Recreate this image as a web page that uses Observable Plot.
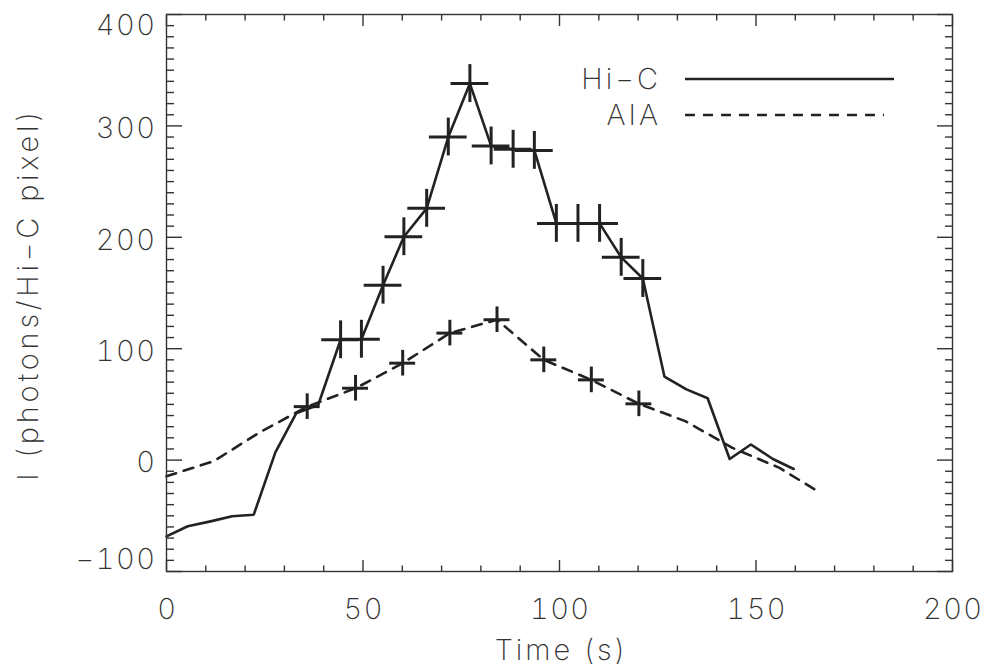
<!DOCTYPE html>
<html><head><meta charset="utf-8">
<script src="https://cdn.jsdelivr.net/npm/d3@7"></script>
<script src="https://cdn.jsdelivr.net/npm/@observablehq/plot@0.6"></script>
<style>
html,body{margin:0;padding:0;background:#fff;}
#wrap{position:relative;width:984px;height:667px;}
#legend{position:absolute;left:0;top:0;pointer-events:none;}
</style></head><body><div id="wrap"></div>
<script>
// Hi-C light curve (time in s, intensity in photons / Hi-C pixel)
const hicTime = [0, 5.4, 11.2, 16.7, 22.2, 27.7, 33.0, 38.6, 44.3, 49.6, 55.1, 60.4, 66.2, 71.7, 77.2, 82.6, 88.2, 93.6, 99.2, 104.7, 110.2, 115.7, 121.2, 126.7, 132.3, 137.7, 143.3, 148.7, 154.3, 159.6];
const hicI    = [-68.5, -59.4, -55, -50.4, -49, 7, 42, 49.5, 108, 108.5, 157, 200.5, 226, 290, 338, 282, 279, 278, 212.5, 212.5, 212.5, 182, 163, 75, 63.5, 55.5, 1, 14, 1, -8];
const hicCrossIndex = [8, 9, 10, 11, 12, 13, 14, 15, 16, 17, 18, 19, 20, 21, 22];
const hicErrT = 4.8, hicErrI = 17;

// AIA light curve
const aiaTime = [0, 12, 24, 35.8, 48.1, 60.1, 72.1, 84.1, 96, 108.1, 120.2, 132, 144, 156, 166.4];
const aiaI    = [-14.5, -1, 25.5, 48, 64.5, 87, 114, 126, 90, 72, 50.5, 35, 11, -7, -29.5];
const aiaCrossIndex = [3, 4, 5, 6, 7, 8, 9, 10];
const aiaErrT = 3.3, aiaErrI = 11.5;

// axes
const xMajor = [0, 50, 100, 150, 200];
const xMinor = [10, 20, 30, 40, 60, 70, 80, 90, 110, 120, 130, 140, 160, 170, 180, 190];
const yMajor = [-100, 0, 100, 200, 300, 400];
const yMinor = [-90,-80,-70,-60,-50,-40,-30,-20,-10,10,20,30,40,50,60,70,80,90,110,120,130,140,150,160,170,180,190,210,220,230,240,250,260,270,280,290,310,320,330,340,350,360,370,380,390];
const xLabel = "Time (s)";
const yLabel = "I (photons/Hi\u2212C pixel)";
const seriesNames = ["Hi\u2212C", "AIA"];

const hic = hicTime.map((t, i) => ({t, v: hicI[i]}));
const aia = aiaTime.map((t, i) => ({t, v: aiaI[i]}));
const hicCross = hicCrossIndex.map(i => hic[i]);
const aiaCross = aiaCrossIndex.map(i => aia[i]);
const yLabelsBottom = [yMajor[0]];
const yLabelsTop = [yMajor[yMajor.length - 1]];
const yLabelsInner = yMajor.slice(1, -1);

const ink = "#222";
const axisInk = "#333";
const fontCss = "font-family: Inter, 'DejaVu Sans', sans-serif; font-size: 29px; font-weight: 200; letter-spacing: 3px;";

const yLab = (vals, dy) => Plot.axisY(vals, {anchor: "left", tickSize: 0, tickPadding: 10, dy, stroke: "none", fill: axisInk, label: null});

const chart = Plot.plot({
  width: 984, height: 667,
  marginLeft: 166, marginRight: 32, marginTop: 14, marginBottom: 96,
  x: {domain: [0, 200]},
  y: {domain: [-100, 400]},
  style: fontCss + " background: #fff; color: #333;",
  marks: [
    // data
    Plot.line(hic, {x: "t", y: "v", stroke: ink, strokeWidth: 2.6}),
    Plot.ruleY(hicCross, {y: "v", x1: d => d.t - hicErrT, x2: d => d.t + hicErrT, stroke: ink, strokeWidth: 3}),
    Plot.ruleX(hicCross, {x: "t", y1: d => d.v - hicErrI, y2: d => d.v + hicErrI, stroke: ink, strokeWidth: 3}),
    Plot.line(aia, {x: "t", y: "v", stroke: ink, strokeWidth: 2.6, strokeDasharray: "10,8"}),
    Plot.ruleY(aiaCross, {y: "v", x1: d => d.t - aiaErrT, x2: d => d.t + aiaErrT, stroke: ink, strokeWidth: 3}),
    Plot.ruleX(aiaCross, {x: "t", y1: d => d.v - aiaErrI, y2: d => d.v + aiaErrI, stroke: ink, strokeWidth: 3}),
    // inward ticks on all four sides
    Plot.axisX(xMajor, {anchor: "bottom", tickSize: -11, fill: "none", stroke: axisInk, strokeWidth: 1.4}),
    Plot.axisX(xMinor, {anchor: "bottom", tickSize: -5.5, fill: "none", stroke: axisInk, strokeWidth: 1.4}),
    Plot.axisX(xMajor, {anchor: "top", tickSize: -11, fill: "none", stroke: axisInk, strokeWidth: 1.4}),
    Plot.axisX(xMinor, {anchor: "top", tickSize: -5.5, fill: "none", stroke: axisInk, strokeWidth: 1.4}),
    Plot.axisY(yMajor, {anchor: "left", tickSize: -16, fill: "none", stroke: axisInk, strokeWidth: 1.4}),
    Plot.axisY(yMinor, {anchor: "left", tickSize: -8, fill: "none", stroke: axisInk, strokeWidth: 1.4}),
    Plot.axisY(yMajor, {anchor: "right", tickSize: -16, fill: "none", stroke: axisInk, strokeWidth: 1.4}),
    Plot.axisY(yMinor, {anchor: "right", tickSize: -8, fill: "none", stroke: axisInk, strokeWidth: 1.4}),
    // tick labels
    Plot.axisX(xMajor, {anchor: "bottom", tickSize: 0, tickPadding: 27, dx: 0.75, stroke: "none", fill: axisInk, label: null}),
    yLab(yLabelsInner, 3),
    yLab(yLabelsTop, 11),
    yLab(yLabelsBottom, -12),
    // axis titles
    Plot.text([xLabel], {frameAnchor: "bottom", dy: 79, dx: 1.5, lineAnchor: "middle", textAnchor: "middle", text: d => d, fill: axisInk}),
    Plot.text([yLabel], {frameAnchor: "left", dx: -138, dy: 1.5, rotate: -90, lineAnchor: "middle", textAnchor: "middle", text: d => d, fill: axisInk}),
    Plot.frame({stroke: axisInk, strokeWidth: 1.4})
  ]
});

// tighter tracking on the numeric tick labels, wider on the y title
d3.select(chart).selectAll('g[aria-label="x-axis tick label"], g[aria-label="y-axis tick label"]').style("letter-spacing", "1.5px");
d3.select(chart).selectAll('g[aria-label="text"]').filter(function() { return this.textContent.includes("photons"); }).style("letter-spacing", "3.8px");

const wrap = document.getElementById("wrap");
wrap.appendChild(chart);

// legend overlay (layout in pixels)
const ns = "http://www.w3.org/2000/svg";
const lg = document.createElementNS(ns, "svg");
lg.setAttribute("id", "legend");
lg.setAttribute("width", 984);
lg.setAttribute("height", 667);
const rows = [
  {name: seriesNames[0], y: 79, x2: 894, dash: null},
  {name: seriesNames[1], y: 115, x2: 884, dash: "10,8"}
];
rows.forEach(r => {
  const t = document.createElementNS(ns, "text");
  t.setAttribute("x", 661);
  t.setAttribute("y", r.y);
  t.setAttribute("dy", "0.36em");
  t.setAttribute("text-anchor", "end");
  t.setAttribute("fill", axisInk);
  t.setAttribute("style", fontCss);
  t.textContent = r.name;
  lg.appendChild(t);
  const l = document.createElementNS(ns, "line");
  l.setAttribute("x1", 685); l.setAttribute("x2", r.x2);
  l.setAttribute("y1", r.y); l.setAttribute("y2", r.y);
  l.setAttribute("stroke", ink); l.setAttribute("stroke-width", 2.6);
  if (r.dash) l.setAttribute("stroke-dasharray", r.dash);
  lg.appendChild(l);
});
wrap.appendChild(lg);
</script></body></html>
